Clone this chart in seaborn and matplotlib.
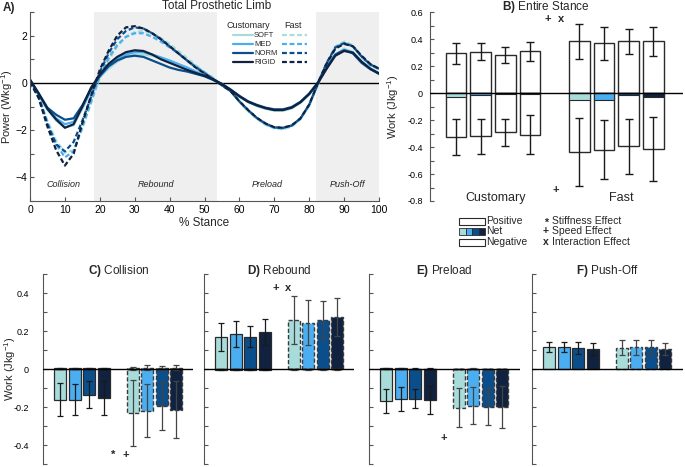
import numpy as np
import pandas as pd
import matplotlib
matplotlib.use('Agg')
import matplotlib.pyplot as plt
from matplotlib.patches import Rectangle
import seaborn as sns

# ---- data ----
stiffness = ['SOFT', 'MED', 'NORM', 'RIGID']
speeds = ['Customary', 'Fast']
colors = ['#a8dcdb', '#4aaef0', '#0a4f8c', '#10223f']

stance = [0, 2.5, 5, 7.5, 10, 12.5, 15, 17.5, 20, 22.5, 25, 27.5, 30, 32.5, 35,
          37.5, 40, 42.5, 45, 47.5, 50, 52.5, 55, 57.5, 60, 62.5, 65, 67.5, 70,
          72.5, 75, 77.5, 80, 82.5, 85, 87.5, 90, 92.5, 95, 97.5, 100]

cust_soft = [0.1, -0.5, -1.15, -1.6, -1.88, -1.8, -1.1, -0.35, 0.25,
             0.6, 0.9, 1.1, 1.2, 1.2, 1.15, 1.05, 0.9, 0.75, 0.6, 0.45, 0.3, 0.15,
             -0.05, -0.3, -0.58, -0.82, -0.98, -1.1, -1.18, -1.18, -1.08, -0.85, -0.5,
             -0.02, 0.6, 1.2, 1.45, 1.3, 0.9, 0.62, 0.42]
cust_med = [0.1, -0.5, -1.1, -1.5, -1.75, -1.65, -1.05, -0.3, 0.25,
            0.7, 1.0, 1.2, 1.3, 1.3, 1.2, 1.08, 0.95, 0.8, 0.65, 0.48, 0.32, 0.15,
            -0.05, -0.3, -0.58, -0.8, -0.97, -1.08, -1.15, -1.15, -1.05, -0.82, -0.48,
            0.0, 0.62, 1.2, 1.4, 1.3, 0.9, 0.6, 0.4]
cust_norm = [0.1, -0.45, -1.05, -1.35, -1.56, -1.5, -0.95, -0.25, 0.3,
             0.7, 0.95, 1.1, 1.15, 1.1, 0.95, 0.8, 0.65, 0.55, 0.48, 0.38, 0.28, 0.12,
             -0.05, -0.28, -0.55, -0.78, -0.93, -1.05, -1.12, -1.12, -1.02, -0.8, -0.45,
             0.02, 0.65, 1.2, 1.38, 1.25, 0.85, 0.58, 0.38]
cust_rigid = [0.15, -0.45, -1.1, -1.55, -1.9, -1.75, -1.0, -0.2, 0.35,
              0.8, 1.1, 1.3, 1.38, 1.35, 1.2, 1.0, 0.85, 0.7, 0.55, 0.42, 0.3, 0.15,
              -0.05, -0.3, -0.57, -0.8, -0.95, -1.07, -1.15, -1.15, -1.05, -0.82, -0.47,
              0.0, 0.6, 1.15, 1.35, 1.28, 0.9, 0.6, 0.4]
fast_soft = [0.0, -0.55, -1.6, -2.45, -2.95, -2.85, -1.95, -0.85, 0.2,
             0.95, 1.55, 1.95, 2.15, 2.2, 2.1, 1.9, 1.65, 1.35, 1.05, 0.75, 0.45, 0.2,
             -0.1, -0.35, -0.8, -1.2, -1.52, -1.78, -1.93, -1.97, -1.85, -1.55, -0.98,
             -0.08, 0.8, 1.55, 1.75, 1.6, 1.1, 0.78, 0.6]
fast_med = [0.0, -0.6, -1.7, -2.6, -3.15, -2.9, -1.85, -0.8, 0.3,
            1.05, 1.6, 1.95, 2.1, 2.1, 1.95, 1.75, 1.5, 1.25, 0.95, 0.7, 0.45, 0.2,
            -0.1, -0.35, -0.8, -1.18, -1.5, -1.75, -1.9, -1.93, -1.82, -1.52, -0.95,
            -0.05, 0.8, 1.5, 1.7, 1.55, 1.1, 0.75, 0.58]
fast_norm = [0.05, -0.6, -1.75, -2.6, -2.9, -2.5, -1.6, -0.6, 0.45,
             1.25, 1.85, 2.2, 2.35, 2.3, 2.1, 1.85, 1.55, 1.25, 0.95, 0.65, 0.4, 0.15,
             -0.1, -0.35, -0.78, -1.15, -1.48, -1.72, -1.88, -1.9, -1.8, -1.5, -0.92,
             -0.02, 0.85, 1.5, 1.68, 1.55, 1.12, 0.78, 0.6]
fast_rigid = [0.05, -0.65, -1.85, -2.85, -3.5, -3.0, -1.7, -0.55, 0.55,
              1.35, 2.0, 2.35, 2.4, 2.3, 2.1, 1.85, 1.55, 1.25, 0.95, 0.65, 0.4, 0.15,
              -0.1, -0.35, -0.78, -1.15, -1.48, -1.72, -1.88, -1.9, -1.8, -1.5, -0.92,
              0.0, 0.82, 1.45, 1.65, 1.55, 1.15, 0.8, 0.6]

phase_names = ['Collision', 'Rebound', 'Preload', 'Push-Off']
phase_label_x = [9.5, 36, 68, 91]
shaded_phases = [(18.3, 53.6), (82, 100)]

# B) entire stance work
ent_pos_cust = [0.295, 0.308, 0.285, 0.31]
ent_pos_cust_err = [0.075, 0.063, 0.06, 0.07]
ent_pos_fast = [0.385, 0.37, 0.385, 0.385]
ent_pos_fast_err = [0.13, 0.122, 0.093, 0.108]
ent_neg_cust = [-0.325, -0.32, -0.29, -0.31]
ent_neg_cust_err = [0.133, 0.13, 0.1, 0.145]
ent_neg_fast = [-0.435, -0.42, -0.395, -0.415]
ent_neg_fast_err = [0.252, 0.22, 0.205, 0.24]
ent_net_cust = [-0.03, -0.01, -0.005, -0.005]
ent_net_fast = [-0.05, -0.05, -0.01, -0.03]

# C) collision
coll_cust = [-0.16, -0.16, -0.135, -0.15]
coll_cust_err = [0.085, 0.083, 0.07, 0.09]
coll_fast = [-0.23, -0.22, -0.195, -0.215]
coll_fast_err = [0.175, 0.14, 0.125, 0.15]
coll_pos_cust = [0.004, 0.004, 0.004, 0.004]
coll_pos_cust_err = [0.004, 0.004, 0.004, 0.004]
coll_pos_fast = [0.005, 0.008, 0.006, 0.008]
coll_pos_fast_err = [0.008, 0.012, 0.01, 0.012]

# D) rebound
reb_cust = [0.17, 0.185, 0.17, 0.195]
reb_cust_err = [0.075, 0.068, 0.055, 0.068]
reb_fast = [0.26, 0.245, 0.26, 0.275]
reb_fast_err = [0.125, 0.118, 0.1, 0.1]
reb_neg_cust = [-0.002, -0.002, -0.003, -0.003]
reb_neg_cust_err = [0.002, 0.002, 0.003, 0.003]
reb_neg_fast = [-0.001, -0.001, -0.001, -0.001]
reb_neg_fast_err = [0.001, 0.001, 0.001, 0.001]

# E) preload
pre_cust = [-0.166, -0.159, -0.157, -0.162]
pre_cust_err = [0.063, 0.063, 0.05, 0.074]
pre_fast = [-0.203, -0.192, -0.197, -0.2]
pre_fast_err = [0.103, 0.097, 0.097, 0.11]
pre_pos_cust = [0.004, 0.004, 0.002, 0.002]
pre_pos_cust_err = [0.003, 0.003, 0.002, 0.002]
pre_pos_fast = [0.001, 0.002, 0.001, 0.001]
pre_pos_fast_err = [0.001, 0.002, 0.001, 0.001]

# F) push-off
push_cust = [0.116, 0.116, 0.111, 0.106]
push_cust_err = [0.026, 0.026, 0.03, 0.031]
push_fast = [0.113, 0.115, 0.115, 0.104]
push_fast_err = [0.04, 0.039, 0.038, 0.032]

cust_pos = [1, 2, 3, 4]
fast_pos = [6, 7, 8, 9]

# ---- style ----
sns.set_style('ticks')
plt.rcParams['font.family'] = ['Liberation Sans', 'DejaVu Sans']
plt.rcParams['mathtext.fontset'] = 'custom'
plt.rcParams['mathtext.rm'] = 'Liberation Sans'
plt.rcParams['mathtext.bf'] = 'Liberation Sans:bold'
plt.rcParams['mathtext.it'] = 'Liberation Sans:italic'
plt.rcParams['xtick.direction'] = 'in'
plt.rcParams['ytick.direction'] = 'in'
plt.rcParams['axes.edgecolor'] = '#555555'
plt.rcParams['xtick.color'] = '#555555'
plt.rcParams['ytick.color'] = '#555555'
plt.rcParams['xtick.labelcolor'] = 'black'
plt.rcParams['ytick.labelcolor'] = 'black'

W, H = 685, 467


def box(l, t, r, b):
    return [l / W, 1 - b / H, (r - l) / W, (b - t) / H]


fig = plt.figure(figsize=(6.85, 4.67), dpi=100)

# ---- A) power curves ----
axA = fig.add_axes(box(30, 12, 379, 201))
for a, b in shaded_phases:
    axA.axvspan(a, b, color='#efefef', lw=0, zorder=0)

series = {('SOFT', 'Customary'): cust_soft, ('MED', 'Customary'): cust_med,
          ('NORM', 'Customary'): cust_norm, ('RIGID', 'Customary'): cust_rigid,
          ('SOFT', 'Fast'): fast_soft, ('MED', 'Fast'): fast_med,
          ('NORM', 'Fast'): fast_norm, ('RIGID', 'Fast'): fast_rigid}
rows = []
for (stf, spd), vals in series.items():
    for s, v in zip(stance, vals):
        rows.append({'stance': s, 'power': v, 'stiffness': stf, 'speed': spd})
df = pd.DataFrame(rows)

axA.axhline(0, color='black', lw=1, zorder=1)
sns.lineplot(data=df, x='stance', y='power', hue='stiffness', style='speed',
             hue_order=stiffness, style_order=speeds, palette=colors,
             dashes={'Customary': '', 'Fast': (2.2, 1.2)}, lw=1.6,
             legend=False, ax=axA, errorbar=None, sort=False)

axA.set_xlim(0, 100)
axA.set_ylim(-5, 3)
axA.set_xticks(range(0, 101, 10))
axA.set_yticks([-4, -2, 0, 2])
axA.set_yticks([-5, -3, -1, 1, 3], minor=True)
axA.tick_params(labelsize=7.5, length=3, width=0.8, pad=3)
axA.tick_params(axis='y', pad=2)
axA.tick_params(which='minor', length=3, width=0.8)
sns.despine(ax=axA)
axA.set_xlabel('% Stance', fontsize=8.5, labelpad=1)
axA.set_ylabel('Power (Wkg$^{-1}$)', fontsize=8)
axA.yaxis.set_label_coords((15.5 - 30) / 349, 0.5)
axA.text(0.536, 1.032, 'Total Prosthetic Limb', transform=axA.transAxes,
         ha='center', va='center', fontsize=8.5)
fig.text(3 / W, 1 - 7.5 / H, 'A)', fontweight='bold', fontsize=8.5, va='center')
for name, x in zip(phase_names, phase_label_x):
    axA.text(x, -4.3, name, style='italic', ha='center', va='center', fontsize=6.5)

# legend of A
axA.text(0.626, 0.931, 'Customary', transform=axA.transAxes, ha='center',
         va='center', fontsize=6.5)
axA.text(0.754, 0.931, 'Fast', transform=axA.transAxes, ha='center',
         va='center', fontsize=6.5)
for i, (stf, c) in enumerate(zip(stiffness, colors)):
    y = 0.877 - i * 0.048
    axA.plot([0.581, 0.640], [y, y], transform=axA.transAxes, color=c, lw=1.6)
    axA.plot([0.721, 0.793], [y, y], transform=axA.transAxes, color=c, lw=1.6,
             dashes=(2.2, 1.2))
    axA.text(0.642, y, stf, transform=axA.transAxes, ha='left', va='center',
             fontsize=5.5)

# ---- B) entire stance ----
axB = fig.add_axes(box(430, 12.3, 683, 201))
edge = '#2a2a2a'
for pos, vals in [(cust_pos, ent_pos_cust), (fast_pos, ent_pos_fast),
                  (cust_pos, ent_neg_cust), (fast_pos, ent_neg_fast)]:
    axB.bar(pos, vals, width=0.84, color='white', edgecolor=edge, lw=1.0, zorder=2)
for pos, vals in [(cust_pos, ent_net_cust), (fast_pos, ent_net_fast)]:
    axB.bar(pos, vals, width=0.84, color=colors, edgecolor=edge, lw=0.8, zorder=3)
for pos, vals, err in [(cust_pos, ent_pos_cust, ent_pos_cust_err),
                       (fast_pos, ent_pos_fast, ent_pos_fast_err),
                       (cust_pos, ent_neg_cust, ent_neg_cust_err),
                       (fast_pos, ent_neg_fast, ent_neg_fast_err)]:
    axB.errorbar(pos, vals, yerr=err, fmt='none', ecolor='#1a1a1a',
                 elinewidth=1.0, capsize=3.2, capthick=1.0, zorder=4)
axB.axhline(0, color='black', lw=1, zorder=5)
axB.set_xlim(-0.05, 10.2)
axB.set_ylim(-0.8, 0.6)
axB.set_xticks([])
b_ticks = [-0.8, -0.6, -0.4, -0.2, 0, 0.2, 0.4, 0.6]
axB.set_yticks(b_ticks)
axB.set_yticklabels(['-0.8', '-0.6', '-0.4', '-0.2', '0', '0.2', '0.4', '0.6'])
axB.set_yticks([-0.7, -0.5, -0.3, -0.1, 0.1, 0.3, 0.5], minor=True)
axB.tick_params(labelsize=6.5, length=3, width=0.8, pad=5)
axB.tick_params(which='minor', length=3, width=0.8)
sns.despine(ax=axB, bottom=True)
axB.set_ylabel('Work (Jkg$^{-1}$)', fontsize=8)
axB.yaxis.set_label_coords((401 - 430) / 253, 0.5)
axB.text(0.458, 1.028, r'$\mathbf{B)}$ Entire Stance', transform=axB.transAxes,
         ha='center', va='center', fontsize=8.5)
axB.text(2.6, -0.78, 'Customary', ha='center', va='center', fontsize=9)
axB.text(7.7, -0.78, 'Fast', ha='center', va='center', fontsize=9)
axB.text(4.72, 0.55, '+', ha='center', va='center', fontsize=8, fontweight='bold')
axB.text(5.25, 0.55, 'x', ha='center', va='center', fontsize=8, fontweight='bold')
axB.text(5.05, -0.72, '+', ha='center', va='center', fontsize=8, fontweight='bold')

# legend of B (figure coords)
def fx(px):
    return px / W


def fy(py):
    return 1 - py / H


fig.add_artist(Rectangle((fx(459), fy(224.5)), 26 / W, 6.5 / H, transform=fig.transFigure,
                         facecolor='white', edgecolor=edge, lw=0.8))
for i, c in enumerate(colors):
    fig.add_artist(Rectangle((fx(459 + 6.5 * i), fy(235)), 6.5 / W, 7 / H,
                             transform=fig.transFigure, facecolor=c,
                             edgecolor=edge, lw=0.6))
fig.add_artist(Rectangle((fx(459), fy(245.5)), 26 / W, 6.5 / H, transform=fig.transFigure,
                         facecolor='white', edgecolor=edge, lw=0.8))
for lab, py in zip(['Positive', 'Net', 'Negative'], [221, 231.5, 242]):
    fig.text(fx(486), fy(py), lab, fontsize=7.5, va='center', ha='left')
for sym, lab, py in zip(['*', '+', 'x'],
                        ['Stiffness Effect', 'Speed Effect', 'Interaction Effect'],
                        [221, 231.5, 242]):
    fig.text(fx(546), fy(py + (2 if sym == '*' else 0)), sym, fontsize=7.5,
             fontweight='bold', va='center', ha='center')
    fig.text(fx(552), fy(py), lab, fontsize=7.5, va='center', ha='left')

# ---- C-F) phase panels ----
def phase_panel(ax, main, small, title, first):
    for (pos, vals, err), dashed in zip(main + small, [False, True, False, True]):
        if dashed:
            ax.bar(pos, vals, width=0.84, color=colors, edgecolor='#3a3a3a',
                   lw=1.0, linestyle=(0, (3, 1.5)), zorder=2)
        else:
            ax.bar(pos, vals, width=0.84, color=colors, edgecolor=edge,
                   lw=0.9, zorder=2)
    for k, (pos, vals, err) in enumerate(main + small):
        ax.errorbar(pos, vals, yerr=err, fmt='none',
                    ecolor='#1a1a1a' if k % 2 == 0 else '#444444',
                    elinewidth=0.9, capsize=2.4, capthick=0.9, zorder=4)
    ax.axhline(0, color='black', lw=1, zorder=5)
    ax.set_xlim(-0.18, 10.2)
    ax.set_ylim(-0.5, 0.5)
    ax.set_xticks([])
    ax.set_yticks([-0.4, -0.2, 0, 0.2, 0.4])
    ax.set_yticks([-0.5, -0.3, -0.1, 0.1, 0.3, 0.5], minor=True)
    ax.tick_params(labelsize=6.5, length=3, width=0.8, pad=10)
    ax.tick_params(which='minor', length=3, width=0.8)
    if first:
        ax.set_yticklabels(['-0.4', '-0.2', '0', '0.2', '0.4'])
        ax.set_ylabel('Work (Jkg$^{-1}$)', fontsize=8)
        ax.yaxis.set_label_coords((17.5 - 43) / 150.5, 0.5)
    else:
        ax.set_yticklabels([])
    sns.despine(ax=ax, bottom=True)
    ax.text(0.5, 1.019, title, transform=ax.transAxes, ha='center',
            va='center', fontsize=8.5)


axC = fig.add_axes(box(43, 274.3, 193.5, 464))
phase_panel(axC, [(cust_pos, coll_cust, coll_cust_err), (fast_pos, coll_fast, coll_fast_err)],
            [(cust_pos, coll_pos_cust, coll_pos_cust_err),
             (fast_pos, coll_pos_fast, coll_pos_fast_err)],
            r'$\mathbf{C)}$ Collision', True)
axC.text(4.68, -0.45, '*', ha='center', va='center', fontsize=8, fontweight='bold')
axC.text(5.5, -0.45, '+', ha='center', va='center', fontsize=8, fontweight='bold')

axD = fig.add_axes(box(204, 274.3, 354.5, 464))
phase_panel(axD, [(cust_pos, reb_cust, reb_cust_err), (fast_pos, reb_fast, reb_fast_err)],
            [(cust_pos, reb_neg_cust, reb_neg_cust_err),
             (fast_pos, reb_neg_fast, reb_neg_fast_err)],
            r'$\mathbf{D)}$ Rebound', False)
axD.text(4.76, 0.427, '+', ha='center', va='center', fontsize=8, fontweight='bold')
axD.text(5.6, 0.427, 'x', ha='center', va='center', fontsize=8, fontweight='bold')

axE = fig.add_axes(box(369, 274.3, 519.5, 464))
phase_panel(axE, [(cust_pos, pre_cust, pre_cust_err), (fast_pos, pre_fast, pre_fast_err)],
            [(cust_pos, pre_pos_cust, pre_pos_cust_err),
             (fast_pos, pre_pos_fast, pre_pos_fast_err)],
            r'$\mathbf{E)}$ Preload', False)
axE.text(4.97, -0.365, '+', ha='center', va='center', fontsize=8, fontweight='bold')

axF = fig.add_axes(box(532, 274.3, 682.5, 464))
phase_panel(axF, [(cust_pos, push_cust, push_cust_err), (fast_pos, push_fast, push_fast_err)],
            [], r'$\mathbf{F)}$ Push-Off', False)

fig.savefig('out.png', dpi=100)
